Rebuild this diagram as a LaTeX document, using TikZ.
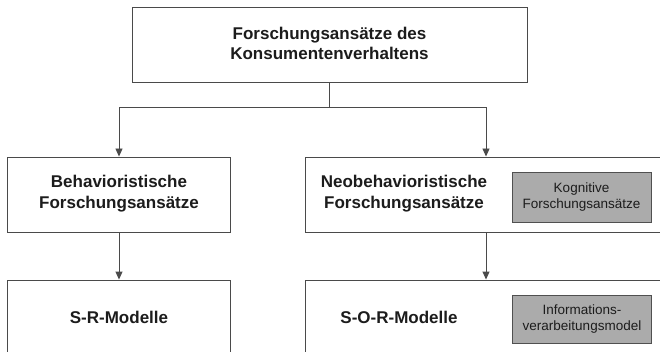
\documentclass[tikz,border=0pt]{standalone}
\usepackage{fontspec}
\setmainfont{Liberation Sans}
\usetikzlibrary{arrows.meta}
\definecolor{linec}{HTML}{4A4A4A}
\definecolor{txtc}{HTML}{1C1C1C}
\definecolor{grayfill}{HTML}{ABABAB}
\definecolor{grayedge}{HTML}{505050}
\tikzset{
  box/.style={draw=linec, line width=0.9pt, fill=white, inner sep=0pt},
  graybox/.style={draw=grayedge, line width=0.9pt, fill=grayfill, inner sep=0pt,
    minimum width=139pt, text=txtc, align=center,
    font=\fontsize{13.5}{15.5}\selectfont},
  maintxt/.style={inner sep=0pt, align=center, text=txtc,
    font=\fontsize{17}{20.5}\selectfont\bfseries},
  arr/.style={draw=linec, line width=0.9pt, -{Triangle[width=7pt,length=8pt]}},
  plain/.style={draw=linec, line width=0.9pt}
}
\begin{document}
\begin{tikzpicture}[x=1pt,y=-1pt]
\clip (0,0) rectangle (660,352);
\fill[white] (0,0) rectangle (660,352);
% boxes
\node[box, minimum width=395pt, minimum height=75pt] (top) at (329.5,44.5) {};
\node[box, minimum width=223pt, minimum height=75pt] (lm) at (119,194.5) {};
\node[box, minimum width=375pt, minimum height=75pt] (rm) at (492.5,194.5) {};
\node[box, minimum width=223pt, minimum height=90pt] (lb) at (119,325) {};
\node[box, minimum width=375pt, minimum height=90pt] (rb) at (492.5,325) {};
% gray boxes
\node[graybox, minimum height=50pt] (kog) at (581.5,197) {Kognitive\\Forschungsansätze};
\node[graybox, minimum height=48pt] (inf) at (582,319) {Informations-\\verarbeitungsmodel};
% texts
\node[maintxt] (ttop) at (329.5,43.5) {Forschungsansätze des\\Konsumentenverhaltens};
\node[maintxt] (tlm) at (119,193.5) {Behavioristische\\Forschungsansätze};
\node[maintxt] (trm) at (404,193.5) {Neobehavioristische\\Forschungsansätze};
\node[maintxt] (tlb) at (119,317) {S-R-Modelle};
\node[maintxt] (trb) at (399,317) {S-O-R-Modelle};
% connectors
\coordinate (j) at (329.5,107);
\draw[plain] (top.south) -- (j);
\draw[arr] (j) -| (lm.north);
\draw[arr] (j) -| ([xshift=-6.5pt]rm.north);
\draw[arr] (lm.south) -- (lb.north);
\draw[arr] ([xshift=-6.5pt]rm.south) -- ([xshift=-6.5pt]rb.north);
\end{tikzpicture}
\end{document}
